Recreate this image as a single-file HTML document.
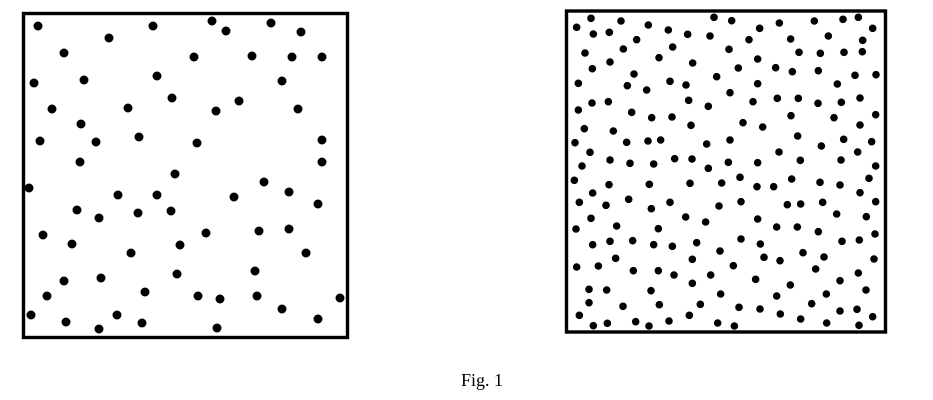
<!DOCTYPE html>
<html><head><meta charset="utf-8"><style>
html,body{margin:0;padding:0;background:#fff;width:933px;height:400px;overflow:hidden}
svg{display:block}
</style></head><body>
<svg id="fig" width="933" height="400" viewBox="0 0 933 400">
<rect x="23.5" y="13.5" width="324" height="324" fill="none" stroke="#000" stroke-width="3.4"/>
<rect x="566.5" y="11" width="319" height="321" fill="none" stroke="#000" stroke-width="3.4"/>
<text x="482" y="386" text-anchor="middle" font-family="Liberation Serif, serif" font-size="18" fill="#000">Fig. 1</text>
<g id="dots"></g>
</svg>
<script>
// Left panel points (figure units)
const leftX = [38,153,212,226,271,301,109,64,194,252,292,322,34,84,157,282,172,239,52,128,216,298,81,40,96,139,197,322,80,322,175,
29,264,118,157,234,289,318,77,99,138,171,43,72,131,180,206,259,289,306,64,101,177,255,47,145,198,220,257,340,282,31,66,99,117,142,217,318];
const leftY = [26,26,21,31,23,32,38,53,57,56,57,57,83,80,76,81,98,101,109,108,111,109,124,141,142,137,143,140,162,162,174,
188,182,195,195,197,192,204,210,218,213,211,235,244,253,245,233,231,229,253,281,278,274,271,296,292,296,299,296,298,309,315,322,329,315,323,328,319];
// Right panel points, four quadrants (sampling units)
const q1X=[93,183,265,462,50,100,148,325,383,450,230,190,338,75,150,297,398,97,222,470,55,202,260,330,378,96,145,386,55,445,215,275,336,73,160,393,45,200,264,302,440,90,150,210,281,344,396,66,445];
const q1Y=[40,48,60,37,67,87,82,75,88,93,104,132,126,144,171,158,174,191,207,215,235,242,255,229,240,294,290,286,315,304,322,338,336,371,378,361,413,412,408,405,417,442,465,475,477,461,462,483,490];
const q2X=[20,163,268,354,400,104,443,72,197,310,413,12,222,286,357,412,98,40,152,202,280,390,453,98,337,15,84,157,220,279,349,405,198,327,452,54,113,405,15,218,289,356,440,162,398,10,98,226,348,452];
const q2Y=[47,54,48,43,37,70,70,104,102,93,106,133,142,145,142,140,162,189,188,200,197,211,209,236,237,263,290,280,280,295,292,279,332,338,329,353,366,360,405,393,423,403,410,441,441,472,473,466,465,483];
const q3X=[43,147,268,390,485,98,58,138,206,274,330,477,93,377,437,48,170,295,98,150,218,281,337,410,480,167,397,50,115,220,295,342,452,87,140,273,397,482,87,189,298,421,58,100,142,227,267,327,388,473];
const q3Y=[31,44,43,40,39,69,97,106,88,116,97,108,145,141,156,177,168,176,224,214,212,224,229,218,243,265,268,291,288,302,302,315,315,358,360,362,340,372,398,409,404,403,436,467,460,455,468,453,436,459];
const q4X=[45,96,146,200,285,345,432,405,48,187,227,293,452,335,424,98,155,217,280,48,106,351,403,450,117,165,234,297,447,25,272,400,92,196,345,423,155,304,260,42,105,166,227,345,396,443,28,305,402];
const q4Y=[22,50,50,27,37,45,25,68,95,104,102,97,95,132,140,147,171,171,185,207,222,214,210,192,262,272,248,261,267,287,297,309,328,345,332,360,378,372,401,412,417,432,447,423,418,440,468,459,466];

const NS='http://www.w3.org/2000/svg';
const g=document.getElementById('dots');
function scale(offset,k){return v=>offset+v*k;}
function plot(xs,ys,sx,sy,r,name){
  for(let i=0;i<xs.length;i++){
    const c=document.createElementNS(NS,'circle');
    c.setAttribute('cx',sx(xs[i]));
    c.setAttribute('cy',sy(ys[i]));
    c.setAttribute('r',r);
    c.setAttribute('fill','#000');
    
    
    g.appendChild(c);
  }
}
plot(leftX,leftY,scale(0,1),scale(0,1),4.5,'left-panel-dot');
plot(q1X,q1Y,scale(560,1/3),scale(5,1/3),3.8,'right-panel-dot');
plot(q2X,q2Y,scale(725,1/3),scale(5,1/3),3.8,'right-panel-dot');
plot(q3X,q3Y,scale(560,1/3),scale(170,1/3),3.8,'right-panel-dot');
plot(q4X,q4Y,scale(725,1/3),scale(170,1/3),3.8,'right-panel-dot');
</script>
</body></html>
